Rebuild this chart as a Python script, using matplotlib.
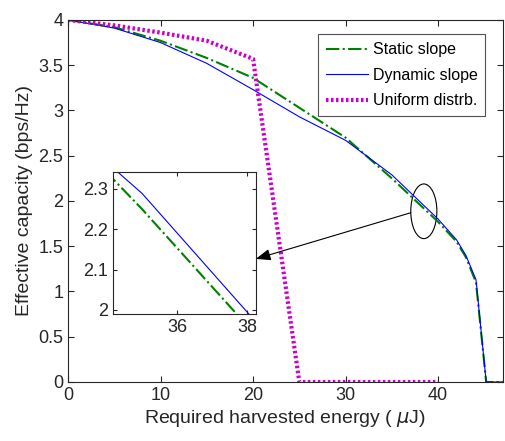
import numpy as np
import matplotlib.pyplot as plt
from matplotlib.patches import Ellipse

plt.rcParams['font.family'] = ['Liberation Sans', 'DejaVu Sans']
plt.rcParams['mathtext.fontset'] = 'dejavusans'

# harvested energy (uJ) and effective capacity (bps/Hz)
energy_static = [0, 5, 10, 15, 20, 25, 30, 35, 40, 42, 43, 44.1, 45.2, 47]
cap_static = [4.0, 3.92, 3.77, 3.58, 3.36, 3.03, 2.70, 2.25, 1.77, 1.55, 1.38, 1.10, 0.0, 0.0]

energy_dynamic = [0, 5, 10, 15, 20, 25, 30, 35, 40, 42, 43, 44.1, 45.2, 47]
cap_dynamic = [4.0, 3.91, 3.75, 3.52, 3.23, 2.93, 2.67, 2.289, 1.80, 1.57, 1.40, 1.13, 0.0, 0.0]

energy_uniform = [0, 5, 10, 15, 20, 25, 30, 35, 40]
cap_uniform = [4.0, 3.94, 3.86, 3.77, 3.57, 0.0, 0.0, 0.0, 0.0]

labels = ['Static slope', 'Dynamic slope', 'Uniform distrb.']
axcol = '#262626'

fig = plt.figure(figsize=(5.05, 4.41), dpi=100)
ax = fig.add_axes([0.1347, 0.1338, 0.861, 0.821])


def draw(a):
    a.plot(energy_static, cap_static, color='#008000', ls='-.', lw=1.5)
    a.plot(energy_dynamic, cap_dynamic, color='#0000ff', ls='-', lw=0.8)
    a.plot(energy_uniform, cap_uniform, color='#cc00cc', ls=(0, (0.6, 0.6)), lw=3)


draw(ax)
ax.set_xlim(0, 47)
ax.set_ylim(0, 4)
ax.set_xticks([0, 10, 20, 30, 40])
ax.set_yticks(np.arange(0, 4.01, 0.5))
ax.set_yticklabels(['0', '0.5', '1', '1.5', '2', '2.5', '3', '3.5', '4'])
ax.tick_params(direction='in', top=True, right=True, labelsize=13, colors=axcol, length=4)
for s in ax.spines.values():
    s.set_color(axcol)
    s.set_linewidth(0.8)
ax.set_xlabel('Required harvested energy ( $\\mu$J)', fontsize=14, color=axcol, labelpad=3)
ax.set_ylabel('Effective capacity (bps/Hz)', fontsize=14, color=axcol, labelpad=4)

leg = ax.legend(labels, loc='upper right', bbox_to_anchor=(0.96, 0.96), fontsize=11.5,
                frameon=True, fancybox=False, handlelength=2.6, handletextpad=0.3,
                borderpad=0.5, labelspacing=0.65, borderaxespad=0)
leg.get_frame().set_edgecolor(axcol)
leg.get_frame().set_linewidth(0.8)

# zoom marker
ax.add_patch(Ellipse((38.46, 1.886), 2.82, 0.604, fill=False, ec='black', lw=0.8))
ax.annotate('', xy=(20.3, 1.36), xytext=(37.05, 1.87),
            arrowprops=dict(arrowstyle='-|>,head_length=0.9,head_width=0.35',
                            color='black', lw=0.8, shrinkA=0, shrinkB=0))

# inset
ins = fig.add_axes([0.2238, 0.288, 0.283, 0.322])
draw(ins)
ins.set_xlim(34.17, 38.26)
ins.set_ylim(1.99, 2.342)
ins.set_xticks([36, 38])
ins.set_yticks([2.0, 2.1, 2.2, 2.3])
ins.set_yticklabels(['2', '2.1', '2.2', '2.3'])
ins.tick_params(direction='in', top=True, right=True, labelsize=13, colors=axcol, length=3)
for s in ins.spines.values():
    s.set_color(axcol)
    s.set_linewidth(0.8)

fig.savefig('out.png', dpi=100)
